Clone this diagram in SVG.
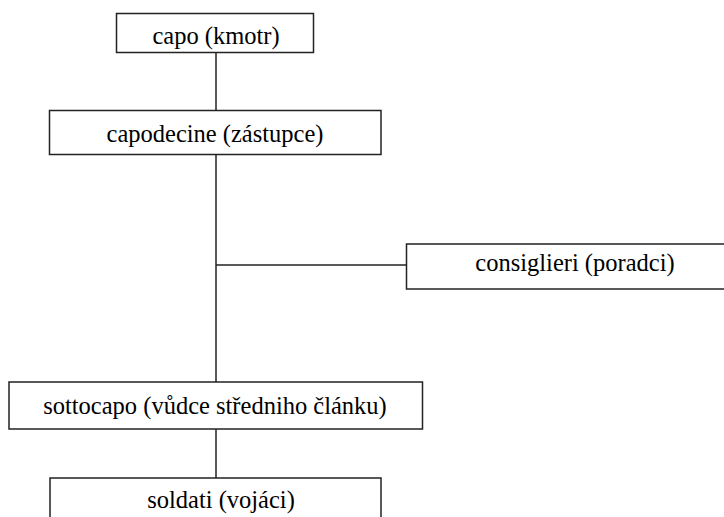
<svg xmlns="http://www.w3.org/2000/svg" width="724" height="517" viewBox="0 0 724 517">
<style>
.box{fill:#fff;stroke:#222;stroke-width:1.5}
.ln{stroke:#222;stroke-width:1.5;fill:none}
text{font-family:"Liberation Serif","Times New Roman",serif;font-size:24.5px;fill:#000;text-anchor:middle}
</style>
<rect width="724" height="517" fill="#fff"/>
<g id="connectors">
<line class="ln" x1="216" y1="53" x2="216" y2="110.5"/>
<line class="ln" x1="216" y1="154.5" x2="216" y2="382"/>
<line class="ln" x1="216" y1="265" x2="406.5" y2="265"/>
<line class="ln" x1="216" y1="429" x2="216" y2="478"/>
</g>
<g id="capo">
<rect class="box" x="116.5" y="13.5" width="197" height="39"/>
<text x="216" y="44">capo (kmotr)</text>
</g>
<g id="capodecine">
<rect class="box" x="49.5" y="110.5" width="331.5" height="44"/>
<text x="215" y="141.5">capodecine (zástupce)</text>
</g>
<g id="consiglieri">
<rect class="box" x="406.5" y="244" width="340" height="45"/>
<text x="575" y="270.5">consiglieri (poradci)</text>
</g>
<g id="sottocapo">
<rect class="box" x="9" y="382" width="413.5" height="47"/>
<text x="215" y="414">sottocapo (vůdce středniho článku)</text>
</g>
<g id="soldati">
<rect class="box" x="50" y="478" width="331" height="60"/>
<text x="221" y="508">soldati (vojáci)</text>
</g>
</svg>
